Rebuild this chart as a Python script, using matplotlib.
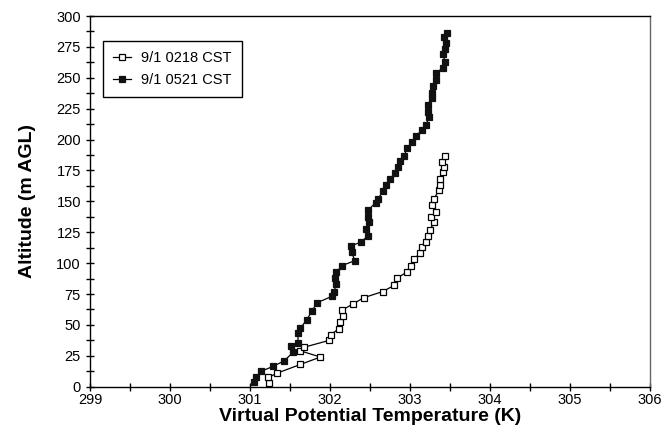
import matplotlib
matplotlib.use("Agg")
import matplotlib.pyplot as plt
from matplotlib.ticker import MultipleLocator

plt.rcParams['font.family'] = ['Liberation Sans', 'DejaVu Sans']

# 9/1 0218 CST (open squares)
temp_0218 = [301.24, 301.23, 301.34, 301.63, 301.88, 301.63, 301.68, 301.99, 302.01, 302.11,
             302.13, 302.16, 302.15, 302.29, 302.42, 302.66, 302.80, 302.84, 302.96, 303.01,
             303.05, 303.12, 303.15, 303.20, 303.23, 303.25, 303.30, 303.26, 303.33, 303.28,
             303.30, 303.36, 303.38, 303.37, 303.41, 303.42, 303.40, 303.44]
alt_0218 = [3, 7.5, 11, 18, 24, 29, 32, 37.5, 42, 47,
            52.5, 57, 62, 67, 72, 77, 82, 88, 92.7, 97.6,
            103, 108, 113, 117, 122, 127, 133, 137.6, 141, 147,
            152, 159, 163, 168, 174, 178, 182, 187]

# 9/1 0521 CST (filled squares)
temp_0521 = [301.05, 301.08, 301.14, 301.29, 301.43, 301.54, 301.51, 301.60, 301.60, 301.63,
             301.71, 301.77, 301.84, 302.02, 302.05, 302.08, 302.06, 302.08, 302.15, 302.31,
             302.27, 302.26, 302.39, 302.47, 302.45, 302.49, 302.47, 302.48, 302.57, 302.60,
             302.66, 302.70, 302.75, 302.81, 302.85, 302.87, 302.93, 302.96, 303.03, 303.08,
             303.15, 303.20, 303.24, 303.23, 303.22, 303.27, 303.28, 303.29, 303.32, 303.33,
             303.41, 303.44, 303.41, 303.44, 303.45, 303.43, 303.46]
alt_0521 = [3.5, 8, 12.5, 16.5, 21, 28, 33, 35.4, 43.5, 47.6,
            54, 61, 68, 73, 77, 83, 88, 92.7, 98, 102,
            109, 114, 117, 122, 128, 133, 137, 143, 149, 152,
            158, 163, 168, 173, 178, 183, 187, 193, 198, 203,
            208, 212, 218, 222, 228, 233.5, 237.6, 243.5, 248, 254,
            258, 263, 269, 273, 278, 283, 286]

labels = ['9/1 0218 CST', '9/1 0521 CST']
x_ticks = [299, 300, 301, 302, 303, 304, 305, 306]
y_ticks = list(range(0, 301, 25))

fig = plt.figure(figsize=(6.68, 4.47), dpi=100)
ax = fig.add_axes([90/668, 1 - 386.7/447, 560/668, 370.7/447])

ax.plot(temp_0218, alt_0218, color='black', lw=0.9, marker='s', ms=5.0,
        mfc='white', mec='black', mew=0.9, label=labels[0])
ax.plot(temp_0521, alt_0521, color='black', lw=0.9, marker='s', ms=5.0,
        mfc='#111111', mec='#111111', mew=0.9, label=labels[1])

ax.set_xlim(299, 306)
ax.set_ylim(0, 300)
ax.set_xticks(x_ticks)
ax.set_yticks(y_ticks)
ax.xaxis.set_minor_locator(MultipleLocator(0.5))
ax.yaxis.set_minor_locator(MultipleLocator(12.5))
ax.tick_params(which='both', direction='inout', length=6, width=1, labelsize=10.5, colors='black')
ax.tick_params(axis='x', pad=1.5)
for s in ax.spines.values():
    s.set_linewidth(1)
    s.set_color('black')
ax.spines['right'].set_color('#666666')

ax.set_xlabel('Virtual Potential Temperature (K)', fontsize=14, fontweight='bold', labelpad=1)
ax.set_ylabel('Altitude (m AGL)', fontsize=14, fontweight='bold', labelpad=15)

leg = ax.legend(loc='upper left', bbox_to_anchor=(0.023, 0.933), borderaxespad=0,
                fontsize=10.5, handlelength=1.2, handletextpad=0.7, borderpad=0.7,
                labelspacing=0.55, fancybox=False, framealpha=1, markerscale=0.8)
leg.get_frame().set_edgecolor('black')
leg.get_frame().set_linewidth(1)

fig.savefig('out.png', dpi=100)
